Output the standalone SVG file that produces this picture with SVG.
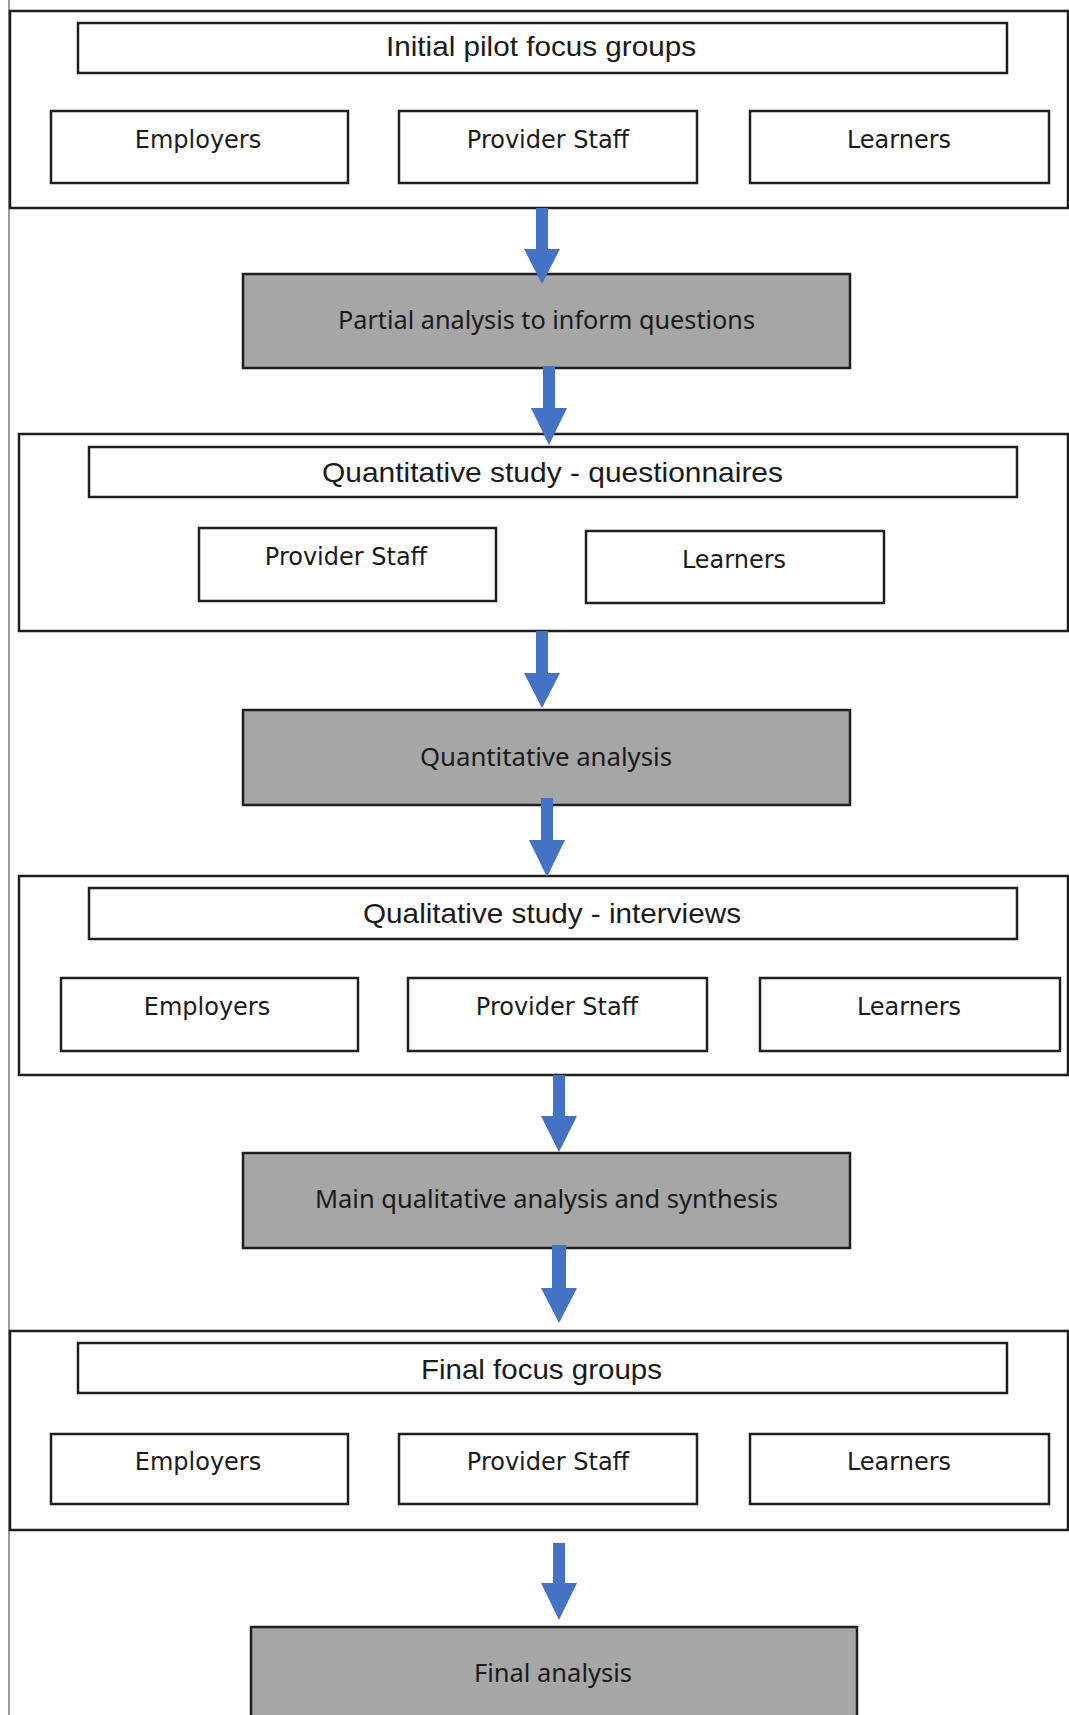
<svg xmlns="http://www.w3.org/2000/svg" width="1069" height="1715" viewBox="0 0 1069 1715">
<style>
.sec{fill:#fff;stroke:#1e1e1e;stroke-width:2.5}
.box{fill:#fff;stroke:#1e1e1e;stroke-width:2.5}
.gray{fill:#a6a6a6;stroke:#1e1e1e;stroke-width:2.5}
.t{font-family:"Liberation Sans",Arial,sans-serif;font-size:28px;fill:#1a1a1a;text-anchor:middle}
.s{font-family:"DejaVu Sans",Verdana,sans-serif;font-size:24px;fill:#1a1a1a;text-anchor:middle}
.g{font-family:"Noto Sans","Liberation Sans",sans-serif;font-size:25px;fill:#1a1a1a;text-anchor:middle}
.arrow{fill:#4472c4}
</style>
<rect x="0" y="0" width="1069" height="1715" fill="#fff"/>
<line x1="9" y1="0" x2="9" y2="1715" stroke="#9a9a9a" stroke-width="2"/>

<g id="section1">
<rect class="sec" x="10" y="11" width="1058" height="197"/>
<g id="title1"><rect class="box" x="78" y="23" width="929" height="50"/><text class="t" x="541" y="56" textLength="310" lengthAdjust="spacingAndGlyphs">Initial pilot focus groups</text></g>
<g id="s1-employers"><rect class="box" x="51" y="111" width="297" height="72"/><text class="s" x="198" y="148">Employers</text></g>
<g id="s1-provider"><rect class="box" x="399" y="111" width="298" height="72"/><text class="s" x="548" y="148">Provider Staff</text></g>
<g id="s1-learners"><rect class="box" x="750" y="111" width="299" height="72"/><text class="s" x="899" y="148">Learners</text></g>
</g>

<g id="gray1"><rect class="gray" x="243" y="274" width="607" height="94"/><text class="g" x="546.5" y="329" textLength="417" lengthAdjust="spacingAndGlyphs">Partial analysis to inform questions</text></g>

<g id="section2">
<rect class="sec" x="19" y="434" width="1049" height="197"/>
<g id="title2"><rect class="box" x="89" y="447" width="928" height="50"/><text class="t" x="552.5" y="482" textLength="461" lengthAdjust="spacingAndGlyphs">Quantitative study - questionnaires</text></g>
<g id="s2-provider"><rect class="box" x="199" y="528" width="297" height="73"/><text class="s" x="346" y="565">Provider Staff</text></g>
<g id="s2-learners"><rect class="box" x="586" y="531" width="298" height="72"/><text class="s" x="734" y="568">Learners</text></g>
</g>

<g id="gray2"><rect class="gray" x="243" y="710" width="607" height="95"/><text class="g" x="546" y="766" textLength="252" lengthAdjust="spacingAndGlyphs">Quantitative analysis</text></g>

<g id="section3">
<rect class="sec" x="19" y="876" width="1049" height="199"/>
<g id="title3"><rect class="box" x="89" y="888" width="928" height="51"/><text class="t" x="552" y="923" textLength="378" lengthAdjust="spacingAndGlyphs">Qualitative study - interviews</text></g>
<g id="s3-employers"><rect class="box" x="61" y="978" width="297" height="73"/><text class="s" x="207" y="1015">Employers</text></g>
<g id="s3-provider"><rect class="box" x="408" y="978" width="299" height="73"/><text class="s" x="557" y="1015">Provider Staff</text></g>
<g id="s3-learners"><rect class="box" x="760" y="978" width="300" height="73"/><text class="s" x="909" y="1015">Learners</text></g>
</g>

<g id="gray3"><rect class="gray" x="243" y="1153" width="607" height="95"/><text class="g" x="546.5" y="1208" textLength="463" lengthAdjust="spacingAndGlyphs">Main qualitative analysis and synthesis</text></g>

<g id="section4">
<rect class="sec" x="10" y="1331" width="1058" height="199"/>
<g id="title4"><rect class="box" x="78" y="1343" width="929" height="50"/><text class="t" x="541.5" y="1379" textLength="241" lengthAdjust="spacingAndGlyphs">Final focus groups</text></g>
<g id="s4-employers"><rect class="box" x="51" y="1434" width="297" height="70"/><text class="s" x="198" y="1470">Employers</text></g>
<g id="s4-provider"><rect class="box" x="399" y="1434" width="298" height="70"/><text class="s" x="548" y="1470">Provider Staff</text></g>
<g id="s4-learners"><rect class="box" x="750" y="1434" width="299" height="70"/><text class="s" x="899" y="1470">Learners</text></g>
</g>

<g id="gray4"><rect class="gray" x="251" y="1627" width="606" height="120"/><text class="g" x="553" y="1682" textLength="158" lengthAdjust="spacingAndGlyphs">Final analysis</text></g>

<g id="connectors">
<path class="arrow" d="M536 208 H548 V249 H560 L542 284 L524 249 H536 Z"/>
<path class="arrow" d="M543 366 H555 V408 H567 L549 445 L531 408 H543 Z"/>
<path class="arrow" d="M536 631 H548 V673 H560 L542 708 L524 673 H536 Z"/>
<path class="arrow" d="M541 798 H553 V840 H565 L547 877 L529 840 H541 Z"/>
<path class="arrow" d="M553 1075 H565 V1116 H577 L559 1152 L541 1116 H553 Z"/>
<path class="arrow" d="M552 1245 H566 V1288 H577 L559 1323 L541 1288 H552 Z"/>
<path class="arrow" d="M553 1543 H565 V1583 H577 L559 1620 L541 1583 H553 Z"/>
</g>
</svg>
